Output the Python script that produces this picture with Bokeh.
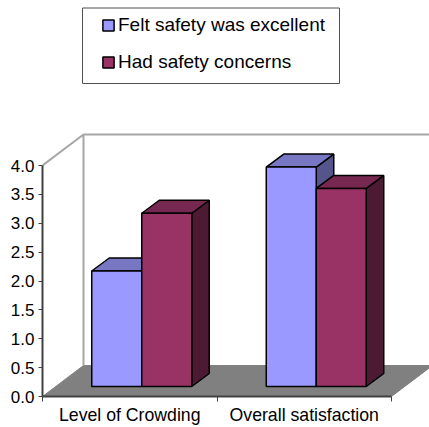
from bokeh.plotting import figure
from bokeh.models import LinearAxis, FixedTicker, Range1d, Legend, LegendItem
from bokeh.embed import file_html
from bokeh.resources import INLINE

categories = ["Level of Crowding", "Overall satisfaction"]
series_names = ["Felt safety was excellent", "Had safety concerns"]
felt_safe = [2.0, 3.8]
concerns = [3.0, 3.43]
y_ticks = [0.0, 0.5, 1.0, 1.5, 2.0, 2.5, 3.0, 3.5, 4.0]

FONT = "Liberation Sans"
PX_X, PX_Y = 174.5, 57.75          # pixels per data unit
WALL_DX, WALL_DY = 41 / PX_X, 31 / PX_Y
FRONT_DX, FRONT_DY = 12 / PX_X, 10 / PX_Y
DEPTH_DX, DEPTH_DY = 17.5 / PX_X, 13 / PX_Y
BAR_W = 50 / PX_X

p = figure(width=429, height=427, output_backend="svg", toolbar_location=None,
           x_range=Range1d(0, 387 / PX_X), y_range=Range1d(0, 396 / PX_Y),
           x_axis_location=None, y_axis_location=None,
           min_border_left=42, min_border_right=0, min_border_top=0, min_border_bottom=31)
p.outline_line_color = None
p.grid.visible = False
p.background_fill_color = "white"

xmax = 2.0
ymax = 4.0
# floor
p.patch([0, WALL_DX, xmax + WALL_DX, xmax], [0, WALL_DY, WALL_DY, 0], fill_color="#808080", line_color="#808080")
# walls
p.line([0, WALL_DX, WALL_DX], [ymax, ymax + WALL_DY, WALL_DY], line_color="#a6a6a6", line_width=2)
p.line([WALL_DX, xmax + WALL_DX], [ymax + WALL_DY, ymax + WALL_DY], line_color="#a6a6a6", line_width=2)

styles = [("#9999FF", "#7777C4", "#55558C"), ("#993366", "#772850", "#4D1A33")]
fronts = []
for g, vals in enumerate(zip(felt_safe, concerns)):
    for s, v in enumerate(vals):
        l = g + 0.5 + FRONT_DX + (s - 1) * BAR_W
        r = l + BAR_W
        b = FRONT_DY
        t = FRONT_DY + v
        front, top, side = styles[s]
        p.patch([r, r + DEPTH_DX, r + DEPTH_DX, r], [b, b + DEPTH_DY, t + DEPTH_DY, t],
                fill_color=side, line_color="black", line_width=1.5)
        p.patch([l, l + DEPTH_DX, r + DEPTH_DX, r], [t, t + DEPTH_DY, t + DEPTH_DY, t],
                fill_color=top, line_color="black", line_width=1.5)
        q = p.quad(left=[l], right=[r], bottom=[b], top=[t], fill_color=front,
                   line_color="black", line_width=1.5)
        if g == 0:
            fronts.append(q)

yax = LinearAxis(ticker=FixedTicker(ticks=y_ticks), bounds=(0, ymax))
yax.major_label_overrides = {t: f"{t:.1f}" for t in y_ticks}
yax.major_label_text_font = FONT
yax.major_label_text_font_size = "17px"
yax.major_label_text_color = "black"
yax.major_label_standoff = 4
yax.axis_line_color = "#404040"
yax.axis_line_width = 2
yax.major_tick_line_color = "#404040"
yax.major_tick_in = 0
yax.major_tick_out = 4
yax.minor_tick_line_color = None
p.add_layout(yax, "left")

xax = LinearAxis(ticker=FixedTicker(ticks=[0.5, 1.5], minor_ticks=[0, 1, 2]), bounds=(0, xmax))
xax.major_label_overrides = {0.5: categories[0], 1.5: categories[1]}
xax.major_label_text_font = FONT
xax.major_label_text_font_size = "17.7px"
xax.major_label_text_color = "black"
xax.major_label_standoff = 2
xax.axis_line_color = "#404040"
xax.axis_line_width = 2
xax.major_tick_line_color = None
xax.minor_tick_line_color = "#404040"
xax.minor_tick_in = 0
xax.minor_tick_out = 5
p.add_layout(xax, "below")

# legend frame (pixels from the frame's top-left, converted to data units)
p.quad(left=[40 / PX_X], right=[297 / PX_X], top=[(396 - 7.5) / PX_Y], bottom=[(396 - 83) / PX_Y],
       fill_color="white", line_color="#505050", line_width=1)

legend = Legend(items=[LegendItem(label=series_names[i], renderers=[fronts[i]]) for i in range(2)],
                location=(59, 323), orientation="vertical", margin=0, padding=0,
                spacing=15, glyph_width=14, glyph_height=14, label_standoff=3,
                label_text_font=FONT, label_text_font_size="19px", label_text_color="black",
                label_height=20, border_line_color=None, background_fill_alpha=0.0)
p.add_layout(legend, "center")

open("out.html", "w").write(file_html(p, INLINE))
